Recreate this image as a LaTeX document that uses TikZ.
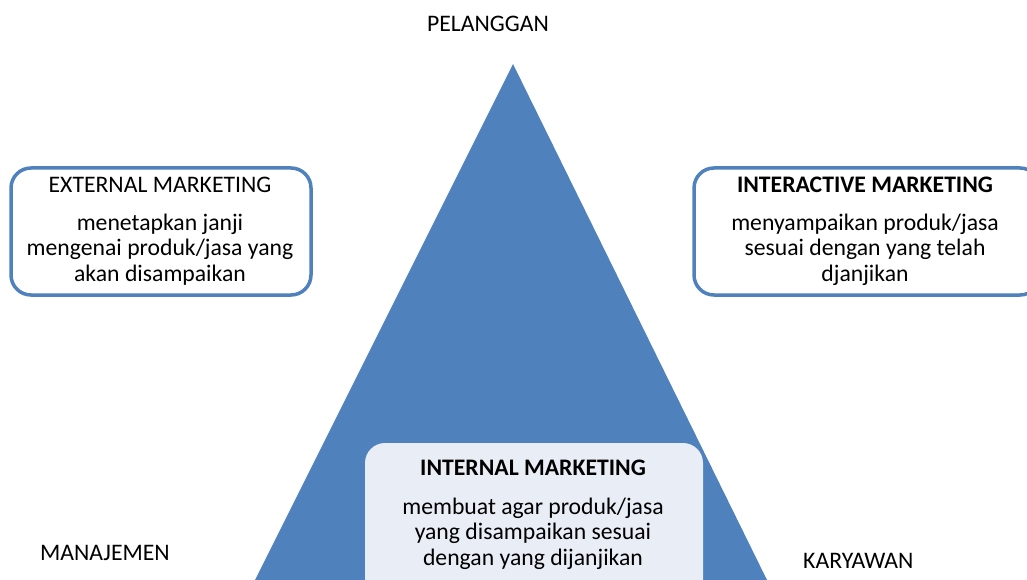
\documentclass[tikz,border=0pt]{standalone}
\usepackage{fontspec}
\setmainfont{Carlito}
\usetikzlibrary{positioning}

\definecolor{segitiga}{HTML}{4F81BD}
\definecolor{kotakisi}{HTML}{E9EEF6}

\tikzset{
	kotak/.style={draw=segitiga, line width=3.5pt, fill=white, rounded corners=20pt},
	kotakdalam/.style={fill=kotakisi, rounded corners=20pt},
	judul/.style={font=\fontsize{23.7}{25.5}\selectfont, anchor=base, inner sep=0pt},
	% base anchor of a multi-line node sits on its last line
	isi/.style={font=\fontsize{23.7}{25.5}\selectfont, align=center, anchor=base, inner sep=0pt},
	sudut/.style={font=\fontsize{23.7}{25.5}\selectfont, anchor=base west, inner sep=0pt}
}

\begin{document}
\begin{tikzpicture}[x=1pt,y=-1pt]
	\useasboundingbox (0,0) rectangle (1027,580);
	% segitiga pelanggan - manajemen - karyawan
	\path (513,64) coordinate (puncak)
		  (255,580) coordinate (kiri)
		  (767,580) coordinate (kanan);
	\fill[segitiga] (puncak) -- (kiri) -- (kanan) -- cycle;

	% kotak-kotak
	\draw[kotak] (11,168) rectangle (311,295);
	\draw[kotak] (694,168) rectangle (1040,295);
	\fill[kotakdalam] (365,443) rectangle (703,600);

	% sudut segitiga
	\path (488,32) node (pelanggan) [judul] {PELANGGAN}
		  (40,560) node (manajemen) [sudut] {MANAJEMEN}
		  (803,568) node (karyawan) [sudut] {KARYAWAN};

	% external marketing
	\path (160,193) node (ext) [judul] {EXTERNAL MARKETING}
		  (160,281) node (extisi) [isi] {menetapkan janji\\mengenai produk/jasa yang\\akan disampaikan};
	% interactive marketing
	\path (865,193) node (inter) [judul] {\bfseries INTERACTIVE MARKETING}
		  (865,281) node (interisi) [isi] {menyampaikan produk/jasa\\sesuai dengan yang telah\\djanjikan};
	% internal marketing
	\path (533,475) node (intern) [judul] {\bfseries INTERNAL MARKETING}
		  (533,565) node (internisi) [isi] {membuat agar produk/jasa\\yang disampaikan sesuai\\dengan yang dijanjikan};
\end{tikzpicture}
\end{document}
